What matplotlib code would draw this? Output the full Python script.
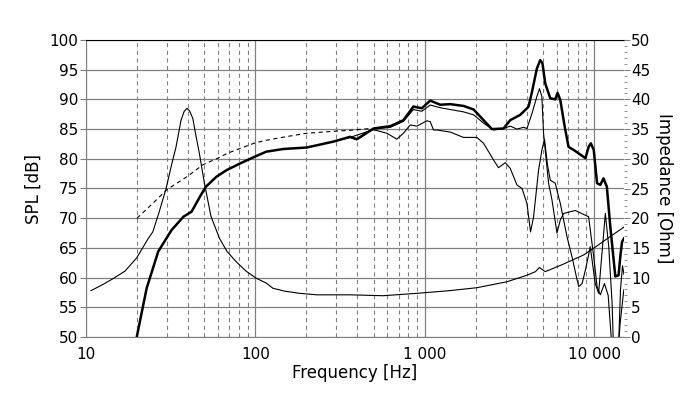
import matplotlib
matplotlib.use("Agg")
import matplotlib.pyplot as plt
from matplotlib.ticker import FixedLocator, LogLocator, MultipleLocator, NullFormatter

plt.rcParams['font.family'] = ['DejaVu Sans']
plt.rcParams['lines.scale_dashes'] = False

# impedance (right axis, ohm)
imp_freq = [10.7, 12.5, 14.4, 17, 19.9, 23.2, 24.8, 27, 29.7, 32, 34, 36.4, 38, 39.5, 41,
            42.7, 44.5, 46.7, 50, 54.7, 61.4, 68, 76.9, 88, 101, 115.6, 127, 150, 183, 231,
            362, 567, 898, 1400, 2032, 3055, 4010, 4500, 4744, 5140, 6500, 8650, 10000,
            12000, 15000]
imp_ohm = [7.8, 8.8, 9.8, 11.1, 13.3, 16.5, 17.7, 21, 25, 29, 32, 36.5, 38.0, 38.5, 38.0,
           36.8, 34, 30.9, 25.9, 20.3, 16.6, 14.4, 12.7, 11.1, 9.9, 9.1, 8.2, 7.7, 7.35, 7.1,
           7.1, 6.95, 7.35, 7.8, 8.3, 9.3, 10.4, 11.0, 11.7, 11.0, 12.2, 13.8, 15.0,
           16.6, 18.5]

# simulated low end (dashed)
dash_freq = [20, 25, 30, 40, 49, 61, 68, 84, 100, 115, 150, 201, 280, 362, 475]
dash_spl = [70.0, 72.6, 74.8, 77.1, 79.0, 80.2, 80.9, 81.9, 82.7, 83.1, 83.7, 84.3, 84.6,
            84.8, 85.1]

# on-axis SPL (thick)
on_freq = [20, 22.8, 26.7, 32, 37.6, 42, 47, 51, 59, 67.7, 81, 100, 116, 146, 201, 289,
           362, 397, 498, 626, 748, 857, 960, 1077, 1233, 1413, 1693, 1943, 2224, 2491,
           2917, 3194, 3660, 4010, 4100, 4296, 4590, 4800, 4950, 5140, 5505, 5890, 6080,
           6310, 6700, 7060, 7560, 8490, 8880, 9270, 9560, 9940, 10400, 10870, 11350,
           11880, 12450, 13030, 13330, 13930, 14260, 14600, 15000]
on_spl = [50.2, 58.2, 64.4, 68.0, 70.25, 71.1, 73.6, 75.3, 77.0, 78.1, 79.2, 80.4, 81.2,
          81.65, 81.9, 82.9, 83.7, 83.3, 85.1, 85.5, 86.5, 88.8, 88.5, 89.8, 89.1, 89.2,
          88.9, 88.3, 86.5, 85.0, 85.1, 86.5, 87.4, 88.5, 88.8, 91.3, 95.2, 96.6, 96.1,
          92.7, 90.2, 90.0, 91.1, 89.9, 85.4, 82.0, 81.5, 80.5, 80.1, 82.0, 82.6, 81.5,
          75.9, 75.6, 76.7, 75.3, 68.6, 63.0, 60.2, 60.4, 63.5, 66.0, 66.6]

# 30 deg off-axis
b_freq = [289, 362, 397, 498, 626, 748, 857, 960, 1077, 1233, 1413, 1693, 1943, 2224, 2546,
          2917, 3194, 3500, 3830, 4010, 4296, 4590, 4755, 4910, 5025, 5380, 5634, 6030,
          6310, 6600, 7730, 9270, 9940, 10400, 10870, 11500, 12100, 12600, 13000, 13600,
          14200, 14900, 15000]
b_spl = [82.9, 83.6, 83.2, 85.0, 85.3, 86.3, 88.3, 88.0, 89.05, 88.6, 88.3, 87.9, 87.4,
         86.0, 84.85, 85.1, 85.5, 85.0, 85.3, 85.1, 87.65, 90.5, 91.8, 90.5, 84.3, 75.9,
         73.1, 67.5, 69.7, 70.8, 71.3, 70.25, 63.5, 58.5, 57.1, 59.0, 57.0, 50.0, 44, 44,
         52, 57.5, 58.0]

# 60 deg off-axis
c_freq = [289, 362, 450, 498, 598, 684, 748, 820, 898, 1029, 1077, 1126, 1180, 1413, 1693,
          2032, 2224, 2546, 2723, 2986, 3194, 3500, 3750, 4010, 4210, 4390, 4695, 4917,
          5090, 5300, 5505, 5890, 6160, 6310, 6910, 7400, 7930, 8110, 8490, 8880, 9270,
          9480, 10150, 10620, 11640, 12190, 12760, 13100, 13800, 14300, 14700, 15000]
c_spl = [82.9, 83.6, 84.5, 84.9, 84.3, 83.3, 84.3, 85.7, 85.5, 86.4, 86.25, 84.85, 84.85,
         84.5, 83.6, 83.6, 82.6, 79.8, 78.5, 79.35, 78.4, 75.6, 75.0, 72.5, 67.7, 70.25,
         78.1, 81.5, 83.3, 79.0, 76.4, 75.9, 73.6, 72.5, 66.9, 63.5, 59.6, 58.5, 59.0,
         61.3, 63.8, 65.2, 59.0, 57.35, 70.8, 65.2, 55.7, 45, 45, 58, 62, 60.5]

x_major = [10, 100, 1000, 10000]
x_labels = ['10', '100', '1 000', '10 000']

gray = '#808080'

fig = plt.figure(figsize=(7.0, 3.99), dpi=100)
ax = fig.add_axes([86 / 700, 1 - 337 / 399, 538 / 700, 297 / 399])
ax.set_xscale('log')
ax.set_xlim(10, 15000)
ax.set_ylim(50, 100)

ax.xaxis.set_major_locator(FixedLocator(x_major))
ax.set_xticklabels(x_labels)
ax.xaxis.set_minor_locator(LogLocator(base=10, subs=range(2, 10), numticks=20))
ax.xaxis.set_minor_formatter(NullFormatter())
ax.yaxis.set_major_locator(MultipleLocator(5))

ax.grid(which='major', color=gray, lw=0.9, ls='-')
ax.grid(which='minor', axis='x', color=gray, lw=0.8, ls=(0, (3, 2.5)))
ax.set_axisbelow(True)

ax.tick_params(axis='x', which='both', length=0, pad=7, labelsize=11)
ax.tick_params(axis='y', which='major', length=4.5, color=gray, pad=1, labelsize=11)

ax.spines['top'].set_color('black')
ax.spines['left'].set_color(gray)
ax.spines['bottom'].set_color(gray)
ax.spines['right'].set_visible(False)

ax.plot(dash_freq, dash_spl, color='black', lw=0.8, ls=(0, (3, 2.5)))
ax.plot(c_freq, c_spl, color='black', lw=0.8)
ax.plot(b_freq, b_spl, color='black', lw=0.8)
ax.plot(on_freq, on_spl, color='black', lw=1.8)

ax.set_xlabel('Frequency [Hz]', fontsize=12)
ax.xaxis.set_label_coords(0.5, -(364 - 337) / 297)
ax.set_ylabel('SPL [dB]', fontsize=12)
ax.yaxis.set_label_coords(-(86 - 43) / 538, 0.5)

ax2 = ax.twinx()
ax2.set_ylim(0, 50)
ax2.yaxis.set_major_locator(MultipleLocator(5))
ax2.yaxis.set_minor_locator(MultipleLocator(1))
ax2.tick_params(axis='y', which='major', length=4, color=gray, pad=1, labelsize=11)
ax2.tick_params(axis='y', which='minor', length=2.2, color=gray)
for s in ['top', 'left', 'bottom', 'right']:
    ax2.spines[s].set_visible(False)
ax2.plot(imp_freq, imp_ohm, color='black', lw=0.8)
ax2.set_ylabel('Impedance [Ohm]', fontsize=12, rotation=270, va='bottom')
ax2.yaxis.set_label_coords((655 - 86) / 538, 0.5)

fig.savefig('out.png', dpi=100)
